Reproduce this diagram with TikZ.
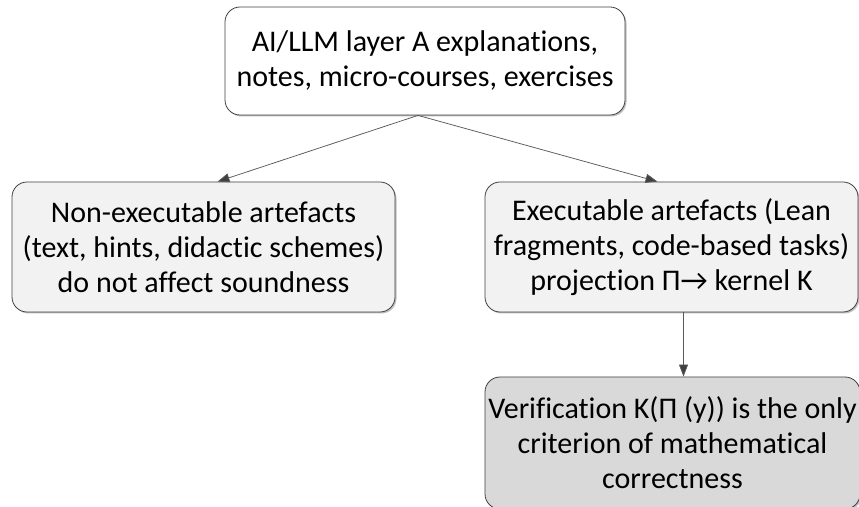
\documentclass[tikz,border=0pt]{standalone}
\usepackage{fontspec}
\setmainfont[Ligatures={NoCommon}]{Carlito}
\usetikzlibrary{arrows.meta,shadows}
\definecolor{edgegray}{HTML}{404040}
\definecolor{linegray}{HTML}{595959}
\definecolor{lightfill}{HTML}{F2F2F2}
\definecolor{darkfill}{HTML}{D9D9D9}
\tikzset{
  box/.style={draw=edgegray, line width=0.8pt, rounded corners=15pt,
    align=center, inner sep=0pt, text=black,
    font=\fontsize{30}{35}\selectfont,
    drop shadow={shadow xshift=1.5pt, shadow yshift=-1.5pt, opacity=0.25, fill=black}},
  link/.style={draw=linegray, line width=0.75pt,
    -{Triangle[length=12pt,width=9pt,fill=edgegray]}}
}
\begin{document}
\begin{tikzpicture}[x=1pt,y=1pt]
\useasboundingbox (0,0) rectangle (859,506);
\begin{scope}
\clip (0,0) rectangle (859,506);
\node[box, fill=white, minimum width=400pt, minimum height=108pt] (top) at (425,445)
  {AI/LLM layer A explanations,\\notes, micro-courses, exercises};
\node[box, fill=lightfill, minimum width=383pt, minimum height=130pt] (left) at (203.5,259)
  {Non-executable artefacts\\(text, hints, didactic schemes)\\do not affect soundness};
\node[box, fill=lightfill, minimum width=373pt, minimum height=130pt] (right) at (671.5,259)
  {Executable artefacts (Lean\\fragments, code-based tasks)\\projection Π→ kernel K};
\node[box, fill=darkfill, minimum width=375pt, minimum height=132pt] (bottom) at (672.5,63)
  {Verification K(Π (y)) is the only\\criterion of mathematical\\correctness};
\draw[link] ([xshift=-7pt]top.south) -- ([xshift=14pt]left.north);
\draw[link] ([xshift=-7pt]top.south) -- ([xshift=-14pt]right.north);
\draw[link] ([xshift=12pt]right.south) -- ([xshift=11pt]bottom.north);
\end{scope}
\end{tikzpicture}
\end{document}
